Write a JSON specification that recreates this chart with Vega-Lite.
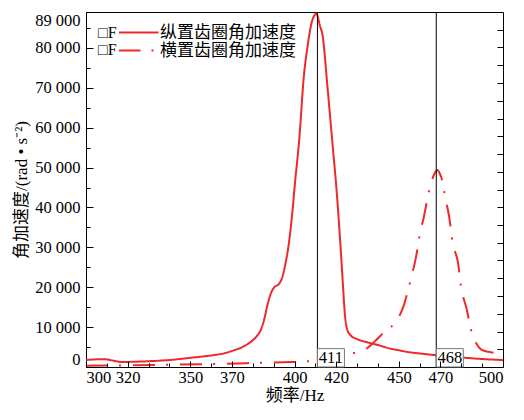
{
  "$schema": "https://vega.github.io/schema/vega-lite/v6.json",
  "width": 417,
  "height": 355,
  "autosize": "none",
  "padding": {"left": 86, "top": 12, "right": 21, "bottom": 53},
  "background": "white",
  "config": {
    "view": {"stroke": "#000", "strokeWidth": 1},
    "axis": {
      "grid": false,
      "ticks": true,
      "tickWidth": 1,
      "tickOpacity": 1,
      "zindex": 1,
      "domainColor": "#000",
      "tickColor": "#000",
      "labelColor": "#000",
      "titleColor": "#000",
      "labelFont": "Liberation Serif",
      "labelFontSize": 16.5,
      "titleFont": "Liberation Serif, Noto Sans CJK SC",
      "titleFontSize": 17,
      "titleFontWeight": "normal"
    }
  },
  "datasets": {
    "curves": [
      {"f": 300, "a": 1750, "s": "纵置齿圈角加速度"},
      {"f": 304, "a": 1900, "s": "纵置齿圈角加速度"},
      {"f": 309, "a": 1950, "s": "纵置齿圈角加速度"},
      {"f": 313, "a": 1600, "s": "纵置齿圈角加速度"},
      {"f": 317, "a": 1250, "s": "纵置齿圈角加速度"},
      {"f": 322, "a": 1300, "s": "纵置齿圈角加速度"},
      {"f": 330, "a": 1450, "s": "纵置齿圈角加速度"},
      {"f": 340, "a": 1750, "s": "纵置齿圈角加速度"},
      {"f": 350, "a": 2300, "s": "纵置齿圈角加速度"},
      {"f": 360, "a": 2900, "s": "纵置齿圈角加速度"},
      {"f": 366, "a": 3400, "s": "纵置齿圈角加速度"},
      {"f": 371, "a": 4200, "s": "纵置齿圈角加速度"},
      {"f": 375, "a": 5000, "s": "纵置齿圈角加速度"},
      {"f": 379, "a": 6300, "s": "纵置齿圈角加速度"},
      {"f": 382, "a": 7800, "s": "纵置齿圈角加速度"},
      {"f": 384, "a": 9500, "s": "纵置齿圈角加速度"},
      {"f": 385.5, "a": 12000, "s": "纵置齿圈角加速度"},
      {"f": 387, "a": 15500, "s": "纵置齿圈角加速度"},
      {"f": 388.7, "a": 18500, "s": "纵置齿圈角加速度"},
      {"f": 390.3, "a": 20000, "s": "纵置齿圈角加速度"},
      {"f": 392.5, "a": 20800, "s": "纵置齿圈角加速度"},
      {"f": 394, "a": 22300, "s": "纵置齿圈角加速度"},
      {"f": 395.5, "a": 25500, "s": "纵置齿圈角加速度"},
      {"f": 397.3, "a": 31000, "s": "纵置齿圈角加速度"},
      {"f": 399, "a": 39000, "s": "纵置齿圈角加速度"},
      {"f": 400.3, "a": 46500, "s": "纵置齿圈角加速度"},
      {"f": 402.3, "a": 57200, "s": "纵置齿圈角加速度"},
      {"f": 404.5, "a": 73000, "s": "纵置齿圈角加速度"},
      {"f": 406.3, "a": 80500, "s": "纵置齿圈角加速度"},
      {"f": 408.2, "a": 86300, "s": "纵置齿圈角加速度"},
      {"f": 409.6, "a": 88200, "s": "纵置齿圈角加速度"},
      {"f": 410.4, "a": 88600, "s": "纵置齿圈角加速度"},
      {"f": 411.2, "a": 87800, "s": "纵置齿圈角加速度"},
      {"f": 412, "a": 85900, "s": "纵置齿圈角加速度"},
      {"f": 413.5, "a": 83000, "s": "纵置齿圈角加速度"},
      {"f": 415.9, "a": 69700, "s": "纵置齿圈角加速度"},
      {"f": 418.3, "a": 55500, "s": "纵置齿圈角加速度"},
      {"f": 420, "a": 45500, "s": "纵置齿圈角加速度"},
      {"f": 421.6, "a": 34000, "s": "纵置齿圈角加速度"},
      {"f": 423.1, "a": 21700, "s": "纵置齿圈角加速度"},
      {"f": 424.2, "a": 13000, "s": "纵置齿圈角加速度"},
      {"f": 425.2, "a": 9500, "s": "纵置齿圈角加速度"},
      {"f": 427, "a": 7900, "s": "纵置齿圈角加速度"},
      {"f": 430, "a": 7000, "s": "纵置齿圈角加速度"},
      {"f": 435, "a": 6200, "s": "纵置齿圈角加速度"},
      {"f": 440, "a": 5500, "s": "纵置齿圈角加速度"},
      {"f": 446, "a": 4600, "s": "纵置齿圈角加速度"},
      {"f": 450, "a": 4200, "s": "纵置齿圈角加速度"},
      {"f": 455, "a": 3700, "s": "纵置齿圈角加速度"},
      {"f": 460, "a": 3400, "s": "纵置齿圈角加速度"},
      {"f": 467, "a": 3000, "s": "纵置齿圈角加速度"},
      {"f": 475, "a": 2600, "s": "纵置齿圈角加速度"},
      {"f": 481, "a": 2350, "s": "纵置齿圈角加速度"},
      {"f": 490, "a": 2000, "s": "纵置齿圈角加速度"},
      {"f": 500, "a": 1750, "s": "纵置齿圈角加速度"},
      {"f": 300, "a": 300, "s": "横置齿圈角加速度"},
      {"f": 320, "a": 400, "s": "横置齿圈角加速度"},
      {"f": 340, "a": 550, "s": "横置齿圈角加速度"},
      {"f": 360, "a": 750, "s": "横置齿圈角加速度"},
      {"f": 380, "a": 1000, "s": "横置齿圈角加速度"},
      {"f": 395, "a": 1200, "s": "横置齿圈角加速度"},
      {"f": 402, "a": 1300, "s": "横置齿圈角加速度"},
      {"f": 410, "a": 1600, "s": "横置齿圈角加速度"},
      {"f": 418, "a": 2200, "s": "横置齿圈角加速度"},
      {"f": 424, "a": 3000, "s": "横置齿圈角加速度"},
      {"f": 430, "a": 3700, "s": "横置齿圈角加速度"},
      {"f": 435, "a": 4800, "s": "横置齿圈角加速度"},
      {"f": 438.3, "a": 6300, "s": "横置齿圈角加速度"},
      {"f": 441, "a": 7700, "s": "横置齿圈角加速度"},
      {"f": 443, "a": 8800, "s": "横置齿圈角加速度"},
      {"f": 446, "a": 9900, "s": "横置齿圈角加速度"},
      {"f": 448, "a": 11000, "s": "横置齿圈角加速度"},
      {"f": 450.5, "a": 13000, "s": "横置齿圈角加速度"},
      {"f": 452.7, "a": 15900, "s": "横置齿圈角加速度"},
      {"f": 454.2, "a": 18800, "s": "横置齿圈角加速度"},
      {"f": 455.9, "a": 22200, "s": "横置齿圈角加速度"},
      {"f": 458.3, "a": 27600, "s": "横置齿圈角加速度"},
      {"f": 460.3, "a": 33800, "s": "横置齿圈角加速度"},
      {"f": 462, "a": 37500, "s": "横置齿圈角加速度"},
      {"f": 463.5, "a": 41500, "s": "横置齿圈角加速度"},
      {"f": 464.9, "a": 45000, "s": "横置齿圈角加速度"},
      {"f": 466.5, "a": 47700, "s": "横置齿圈角加速度"},
      {"f": 467.7, "a": 49000, "s": "横置齿圈角加速度"},
      {"f": 468.6, "a": 49400, "s": "横置齿圈角加速度"},
      {"f": 469.5, "a": 48700, "s": "横置齿圈角加速度"},
      {"f": 471.1, "a": 46200, "s": "横置齿圈角加速度"},
      {"f": 472.2, "a": 42800, "s": "横置齿圈角加速度"},
      {"f": 474.2, "a": 37600, "s": "横置齿圈角加速度"},
      {"f": 475.8, "a": 31300, "s": "横置齿圈角加速度"},
      {"f": 478.5, "a": 25900, "s": "横置齿圈角加速度"},
      {"f": 479.9, "a": 20100, "s": "横置齿圈角加速度"},
      {"f": 482.7, "a": 14250, "s": "横置齿圈角加速度"},
      {"f": 484, "a": 11000, "s": "横置齿圈角加速度"},
      {"f": 485.3, "a": 8000, "s": "横置齿圈角加速度"},
      {"f": 487.3, "a": 5800, "s": "横置齿圈角加速度"},
      {"f": 489.4, "a": 4400, "s": "横置齿圈角加速度"},
      {"f": 493, "a": 3800, "s": "横置齿圈角加速度"},
      {"f": 497, "a": 3500, "s": "横置齿圈角加速度"},
      {"f": 500, "a": 3400, "s": "横置齿圈角加速度"}
    ],
    "peaks": [
      {"f": 411, "label": "411"},
      {"f": 468, "label": "468"}
    ]
  },
  "layer": [
    {
      "data": {"name": "curves"},
      "mark": {"type": "line", "strokeWidth": 2, "interpolate": "monotone"},
      "encoding": {
        "x": {
          "field": "f", "type": "quantitative",
          "scale": {"domain": [300, 500], "nice": false, "zero": false},
          "axis": {
            "orient": "bottom",
            "title": "频率/Hz",
            "values": [300, 320, 350, 370, 400, 420, 450, 470, 500],
            "ticks": true,
            "zindex": 1,
            "offset": -6,
            "tickSize": 6,
            "domain": false,
            "labelPadding": 2,
            "labelFlush": true,
            "titlePadding": 2
          }
        },
        "y": {
          "field": "a", "type": "quantitative",
          "scale": {"domain": [0, 89000], "nice": false, "zero": true},
          "axis": {
            "orient": "left",
            "title": "角加速度/(rad • s⁻²)",
            "values": [0, 10000, 20000, 30000, 40000, 50000, 60000, 70000, 80000, 89000],
            "labelExpr": "replace(format(datum.value, ','), ',', ' ')",
            "ticks": true,
            "zindex": 1,
            "offset": -7,
            "tickSize": 7,
            "domain": false,
            "labelPadding": 6,
            "labelFlush": true,
            "titlePadding": 4
          }
        },
        "color": {
          "field": "s", "type": "nominal",
          "scale": {"domain": ["纵置齿圈角加速度", "横置齿圈角加速度"], "range": ["#f0282a", "#f0282a"]},
          "legend": {
            "orient": "top-left", "offset": 12, "padding": 0,
            "title": ["□F", "□F"], "titleOrient": "left", "titleFont": "Liberation Serif",
            "titleFontSize": 16, "titleFontWeight": "normal", "titleLineHeight": 17, "titlePadding": 2,
            "labelFont": "Noto Sans CJK SC", "labelFontSize": 17, "labelColor": "#000", "labelLimit": 300, "labelOffset": 13,
            "symbolType": "M-4,0H4", "symbolSize": 100, "symbolStrokeWidth": 2, "symbolOffset": 11, "clipHeight": 17, "rowPadding": 0
          }
        },
        "strokeDash": {
          "field": "s", "type": "nominal",
          "scale": {"domain": ["纵置齿圈角加速度", "横置齿圈角加速度"], "range": [[1, 0], [22, 11, 2, 12]]},
          "legend": {
            "orient": "top-left", "offset": 12, "padding": 0,
            "title": ["□F", "□F"], "titleOrient": "left", "titleFont": "Liberation Serif",
            "titleFontSize": 16, "titleFontWeight": "normal", "titleLineHeight": 17, "titlePadding": 2,
            "labelFont": "Noto Sans CJK SC", "labelFontSize": 17, "labelColor": "#000", "labelLimit": 300, "labelOffset": 13,
            "symbolType": "M-4,0H4", "symbolSize": 100, "symbolStrokeWidth": 2, "symbolOffset": 11, "clipHeight": 17, "rowPadding": 0
          }
        }
      }
    },
    {
      "data": {"name": "peaks"},
      "mark": {"type": "rule", "color": "#000", "strokeWidth": 1},
      "encoding": {
        "x": {
          "field": "f", "type": "quantitative",
          "scale": {"domain": [300, 500], "nice": false, "zero": false},
          "axis": {
            "orient": "bottom", "title": null, "labels": false, "domain": false, "ticks": true, "zindex": 1,
            "values": [310, 330, 340, 360, 380, 390, 410, 430, 440, 460, 480, 490],
            "offset": -4,
            "tickSize": 4
          }
        }
      }
    },
    {
      "data": {"name": "peaks"},
      "mark": {"type": "rect", "width": 27, "xOffset": 13.5, "fill": "white", "stroke": "#777", "strokeWidth": 1},
      "encoding": {
        "x": {"field": "f", "type": "quantitative", "scale": {"domain": [300, 500], "nice": false, "zero": false}, "axis": null},
        "y": {
          "datum": 0, "type": "quantitative",
          "scale": {"domain": [0, 89000], "nice": false, "zero": true},
          "axis": {
            "orient": "left", "title": null, "labels": false, "domain": false, "ticks": true, "zindex": 1,
            "values": [5000, 15000, 25000, 35000, 45000, 55000, 65000, 75000, 85000],
            "offset": -4,
            "tickSize": 4
          }
        },
        "y2": {"datum": 4600}
      }
    },
    {
      "data": {"name": "peaks"},
      "mark": {"type": "text", "dx": 13.5, "dy": -1, "align": "center", "baseline": "bottom", "font": "Liberation Serif", "fontSize": 16.5, "color": "#000"},
      "encoding": {
        "x": {"field": "f", "type": "quantitative", "scale": {"domain": [300, 500], "nice": false, "zero": false}, "axis": null},
        "y": {
          "datum": 0, "type": "quantitative",
          "scale": {"domain": [0, 89000], "nice": false, "zero": true},
          "axis": {
            "orient": "right", "title": null, "labels": false, "domain": false, "ticks": true, "zindex": 1,
            "values": [4450, 8900, 13350, 17800, 22250, 26700, 31150, 35600, 40050, 44500, 48950, 53400, 57850, 62300, 66750, 71200, 75650, 80100, 84550],
            "offset": -6,
            "tickSize": 6
          }
        },
        "text": {"field": "label"}
      }
    }
  ],
  "resolve": {"axis": {"x": "independent", "y": "independent"}}
}
